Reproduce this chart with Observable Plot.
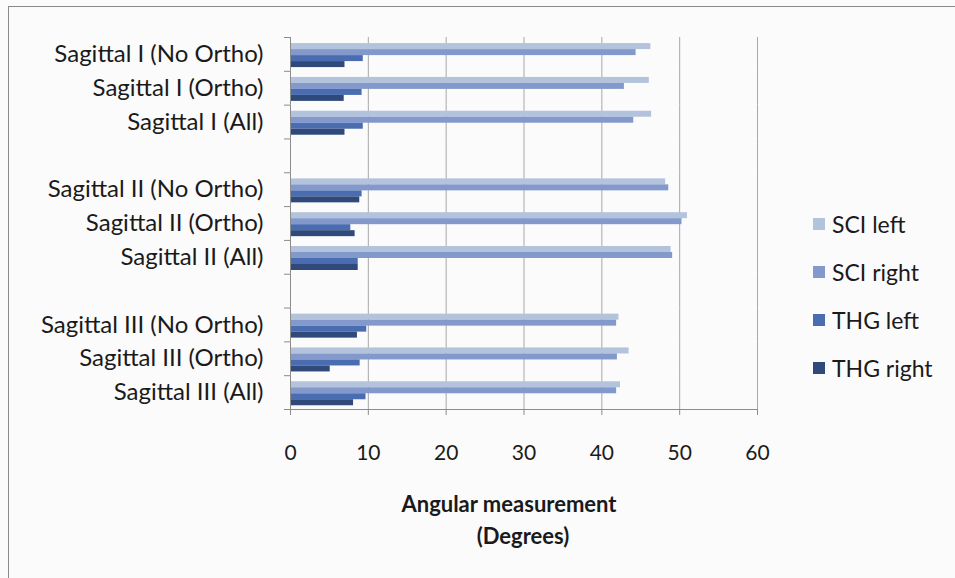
<!DOCTYPE html>
<html>
<head>
<meta charset="utf-8">
<script src="https://cdn.jsdelivr.net/npm/d3@7"></script>
<script src="https://cdn.jsdelivr.net/npm/@observablehq/plot@0.6"></script>
<style>
  html, body { margin: 0; padding: 0; }
  body {
    width: 955px; height: 578px; overflow: hidden; position: relative;
    background: #fbfbfc; font-family: Lato, "Open Sans", sans-serif; color: #1a1a1a;
  }
  #frame {
    position: absolute; left: 8px; top: 6px; width: 980px; height: 600px;
    border: 1.5px solid #8a8a8a; box-sizing: border-box;
  }
  #chart { position: absolute; left: 0; top: 0; }
  #chart svg { background: transparent; overflow: visible; }
  .title-line {
    position: absolute; font-weight: 700; font-size: 22px; white-space: nowrap;
    transform: translateX(-50%); color: #1a1a1a;
  }
  #legend { position: absolute; left: 813px; top: 209px; }
  .legend-item {
    position: absolute; left: 0; display: flex; align-items: center;
    font-size: 23px; white-space: nowrap; height: 30px;
  }
  .legend-swatch { width: 12px; height: 12px; margin-right: 7px; }
</style>
</head>
<body>
<div id="frame"></div>
<div id="chart"></div>
<div class="title-line" style="left:509px; top:490px;">Angular measurement</div>
<div class="title-line" style="left:523px; top:522px;">(Degrees)</div>
<div id="legend"></div>
<script>
// Categories from top to bottom
const categories = [
  "Sagittal I (No Ortho)", "Sagittal I (Ortho)", "Sagittal I (All)",
  "Sagittal II (No Ortho)", "Sagittal II (Ortho)", "Sagittal II (All)",
  "Sagittal III (No Ortho)", "Sagittal III (Ortho)", "Sagittal III (All)"
];
const series = ["SCI left", "SCI right", "THG left", "THG right"];
const seriesColors = ["#b3c3dc", "#8399cc", "#4a6cb0", "#2f4a7a"];

// Angular measurement (degrees), one value per category
const sciLeft  = [46.3, 46.1, 46.4, 48.2, 51.0, 48.9, 42.2, 43.5, 42.4];
const sciRight = [44.4, 42.9, 44.1, 48.6, 50.3, 49.1, 41.9, 42.0, 41.9];
const thgLeft  = [9.35, 9.2, 9.35, 9.2, 7.75, 8.7, 9.8, 8.95, 9.7];
const thgRight = [7.0, 6.9, 7.0, 8.9, 8.3, 8.7, 8.6, 5.1, 8.1];

const xTicks = [0, 10, 20, 30, 40, 50, 60];

// Row slots: each Sagittal group is followed by an empty spacer row
const slots = [
  categories[0], categories[1], categories[2], "gap-1",
  categories[3], categories[4], categories[5], "gap-2",
  categories[6], categories[7], categories[8]
];

const valuesBySeries = [sciLeft, sciRight, thgLeft, thgRight];
const rows = [];
categories.forEach((c, i) => {
  series.forEach((s, j) => rows.push({category: c, series: s, value: valuesBySeries[j][i]}));
});

const W = 955, H = 578;
const mTop = 37, mBottom = 169, mLeft = 290, mRight = 198;
const slotHeight = (H - mTop - mBottom) / slots.length;

const chart = Plot.plot({
  width: W,
  height: H,
  marginTop: mTop,
  marginBottom: mBottom,
  marginLeft: mLeft,
  marginRight: mRight,
  facet: {marginTop: 0, marginBottom: 0, marginLeft: 0, marginRight: 0},
  style: {background: "transparent", fontFamily: "Lato, 'Open Sans', sans-serif", color: "#1a1a1a"},
  x: {domain: [0, 60], axis: null},
  fy: {domain: slots, padding: 0, round: false, axis: null},
  y: {domain: series, paddingInner: 0, paddingOuter: 0.82, align: 0.62, round: false, axis: null},
  color: {domain: series, range: seriesColors},
  marks: [
    Plot.gridX(xTicks.slice(1), {stroke: "#a8a8a8", strokeOpacity: 1}),
    Plot.barX(rows, {x: "value", y: "series", fy: "category", fill: "series"}),
    // vertical category axis line, one segment per row slot (spacers included)
    Plot.ruleX(slots, {x: 0, fy: d => d, stroke: "#8c8c8c"}),
    // bottom axis line, extended left to form the last category tick
    Plot.frame({anchor: "bottom", facetAnchor: "bottom", stroke: "#8c8c8c", insetLeft: -6}),
    // category labels
    Plot.axisFy({
      anchor: "left", tickSize: 0, tickPadding: 27, fontSize: 24, label: null,
      tickFormat: d => d.startsWith("gap") ? "" : d
    }),
    // category boundary ticks between rows
    Plot.axisFy({
      anchor: "left", tickSize: 6, dy: -slotHeight / 2, stroke: "#8c8c8c", label: null,
      tickFormat: () => ""
    }),
    Plot.axisX(xTicks, {
      anchor: "bottom", tickSize: 6, tickPadding: 30, fontSize: 21, label: null,
      stroke: "#8c8c8c", facetAnchor: "bottom"
    })
  ]
});
document.getElementById("chart").appendChild(chart);

// Legend
const legend = document.getElementById("legend");
const legendSpacing = 48;
series.forEach((s, i) => {
  const item = document.createElement("div");
  item.className = "legend-item";
  item.style.top = (i * legendSpacing) + "px";
  const sw = document.createElement("span");
  sw.className = "legend-swatch";
  sw.style.background = seriesColors[i];
  const tx = document.createElement("span");
  tx.textContent = s;
  item.appendChild(sw);
  item.appendChild(tx);
  legend.appendChild(item);
});
</script>
</body>
</html>
